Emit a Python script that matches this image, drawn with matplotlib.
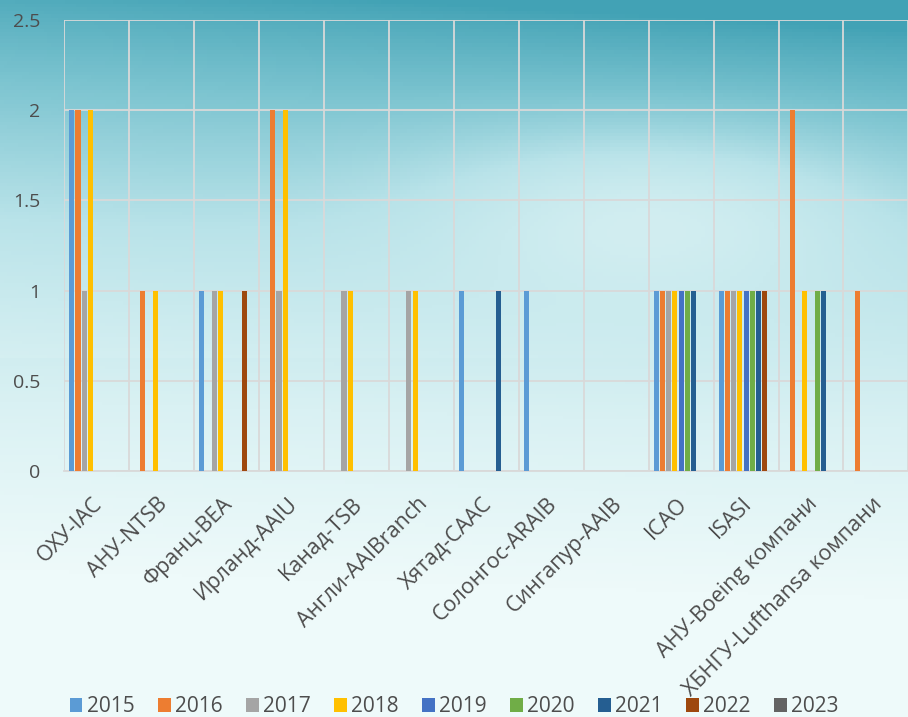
import numpy as np
import matplotlib
matplotlib.use('Agg')
from matplotlib import pyplot as plt
from matplotlib import transforms
from matplotlib.colors import LinearSegmentedColormap

plt.rcParams['font.family'] = ['Open Sans', 'DejaVu Sans']

# categories and series
categories = ['ОХУ-IAC', 'АНУ-NTSB', 'Франц-BEA', 'Ирланд-AAIU', 'Канад-TSB',
              'Англи-AAIBranch', 'Хятад-CAAC', 'Солонгос-ARAIB', 'Сингапур-AAIB',
              'ICAO', 'ISASI', 'АНУ-Boeing компани', 'ХБНГУ-Lufthansa компани']
years = ['2015', '2016', '2017', '2018', '2019', '2020', '2021', '2022', '2023']
v2015 = [2, 0, 1, 0, 0, 0, 1, 1, 0, 1, 1, 0, 0]
v2016 = [2, 1, 0, 2, 0, 0, 0, 0, 0, 1, 1, 2, 1]
v2017 = [1, 0, 1, 1, 1, 1, 0, 0, 0, 1, 1, 0, 0]
v2018 = [2, 1, 1, 2, 1, 1, 0, 0, 0, 1, 1, 1, 0]
v2019 = [0, 0, 0, 0, 0, 0, 0, 0, 0, 1, 1, 0, 0]
v2020 = [0, 0, 0, 0, 0, 0, 0, 0, 0, 1, 1, 1, 0]
v2021 = [0, 0, 0, 0, 0, 0, 1, 0, 0, 1, 1, 1, 0]
v2022 = [0, 0, 1, 0, 0, 0, 0, 0, 0, 0, 1, 0, 0]
v2023 = [0, 0, 0, 0, 0, 0, 0, 0, 0, 0, 0, 0, 0]
series = [v2015, v2016, v2017, v2018, v2019, v2020, v2021, v2022, v2023]
colors = ['#5B9BD5', '#ED7D31', '#A5A5A5', '#FFC000', '#4472C4',
          '#70AD47', '#255E91', '#9E480E', '#636363']

fig = plt.figure(figsize=(9.08, 7.17), dpi=100)

# background (sky-like gradient)
bg = fig.add_axes([0, 0, 1, 1], zorder=-10)
h, w = 200, 250
yy, xx = np.mgrid[0:1:h*1j, 0:1:w*1j]
t = np.clip(yy * 1.25 - 0.05 * xx + 0.04 * (1 - xx) * (yy < 0.5), 0, 1) ** 0.8
blob = np.exp(-(((xx - 0.72) / 0.25) ** 2 + ((yy - 0.3) / 0.12) ** 2))
val = np.clip(t + 0.45 * blob * (1 - t), 0, 1)
sky = LinearSegmentedColormap.from_list('sky', ['#42a2b5', '#7cc4d0', '#b9e3e9', '#d9f1f3', '#eefafa'])
bg.imshow(val, cmap=sky, aspect='auto', extent=[0, 1, 0, 1], vmin=0, vmax=1)
bg.axis('off')

ax = fig.add_axes([0.0705, 0.343, 0.93, 0.629])
ax.patch.set_alpha(0)

x = np.arange(len(categories))
pitch = 0.095
for j, vals in enumerate(series):
    ax.bar(x + (j - 4) * pitch, vals, width=0.078, color=colors[j], label=years[j],
           zorder=3, linewidth=0)

ax.set_xlim(-0.5, len(categories) - 0.5)
ax.set_ylim(0, 2.5)
ax.set_yticks([0, 0.5, 1, 1.5, 2, 2.5])
ax.set_yticklabels(['0', '0.5', '1', '1.5', '2', '2.5'])
ax.set_xticks(x)
ax.set_xticklabels(categories, rotation=45, ha='right', rotation_mode='anchor')
ax.set_xticks(np.arange(-0.5, len(categories)), minor=True)
ax.tick_params(axis='x', which='major', length=0, pad=16, labelsize=15.5, labelcolor='#4d4d4d')
ax.tick_params(axis='x', which='minor', length=0)
ax.tick_params(axis='y', length=0, pad=17, labelsize=14, labelcolor='#4d4d4d')
shift = transforms.ScaledTranslation(-0.045, 0, fig.dpi_scale_trans)
for lab in ax.get_xticklabels():
    lab.set_transform(lab.get_transform() + shift)
ax.grid(axis='y', color='#d9d9d9', linewidth=1.3, zorder=1)
ax.grid(axis='x', which='minor', color='#d9d9d9', linewidth=1.3, zorder=1)
for s in ['top', 'right', 'left']:
    ax.spines[s].set_visible(False)
ax.spines['bottom'].set_color('#d9d9d9')
ax.spines['bottom'].set_linewidth(1.3)

leg = fig.legend(loc='center', bbox_to_anchor=(0.5, 0.014), ncol=9, frameon=False,
                 fontsize=15, handlelength=0.62, handleheight=0.62, handletextpad=0.2,
                 columnspacing=1.12, labelcolor='#4d4d4d')

fig.savefig('out.png', dpi=100)
